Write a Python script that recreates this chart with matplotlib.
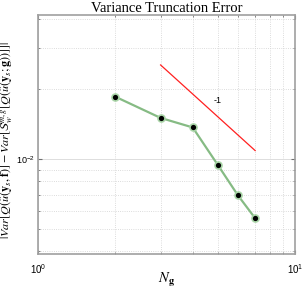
import numpy as np
import matplotlib
matplotlib.use("Agg")
import matplotlib.pyplot as plt
from matplotlib.ticker import LogLocator, NullFormatter

plt.rcParams["mathtext.fontset"] = "stix"
plt.rcParams["font.family"] = "Liberation Sans"

# data
n_g = [2, 3, 4, 5, 6, 7]
err = [0.0185, 0.0150, 0.01365, 0.00945, 0.00697, 0.00556]

# slope -1 reference line
ref_x = [3, 7]
ref_c = 0.076
ref_y = [ref_c / v for v in ref_x]

fig = plt.figure(figsize=(3.05, 2.9), dpi=100)
ax = fig.add_axes([0.1246, 0.124, 0.8424, 0.824])

ax.plot(n_g, err, "-", color="#86bb84", lw=1.6, zorder=3)
ax.plot(n_g, err, "o", ms=5, mfc="black", mec="#a8d4a6", mew=1.2, zorder=4)
ax.plot(ref_x, ref_y, "-", color="#ff2020", lw=0.9, zorder=3)
ax.text(5.0, 0.0178, "-1", fontsize=6.5, ha="center", va="center")

ax.set_xscale("log")
ax.set_yscale("log")
ax.set_xlim(1, 10)
ax.set_ylim(0.0039, 0.0415)

ax.yaxis.set_major_locator(LogLocator(base=10, numticks=10))
ax.yaxis.set_minor_locator(LogLocator(base=10, subs=np.arange(2, 10), numticks=10))
ax.yaxis.set_minor_formatter(NullFormatter())
ax.xaxis.set_minor_formatter(NullFormatter())

ax.grid(True, which="major", color="#dddddd", lw=0.7, ls="-")
ax.grid(True, which="minor", color="#d0d0d0", lw=0.6, ls=":")

for s in ax.spines.values():
    s.set_color("#a0a0a0")
    s.set_linewidth(1.2)
ax.tick_params(which="both", direction="in", color="#707070", labelsize=7,
               top=True, right=True)
ax.tick_params(axis="x", which="major", pad=6)
ax.tick_params(axis="y", which="major", pad=2, labelsize=6.5)
ax.tick_params(which="major", length=3)
ax.tick_params(which="minor", length=1.5)

ax.set_title("Variance Truncation Error", fontsize=10.5, family="Liberation Serif", pad=2)
ax.set_xlabel(r"$N_\mathbf{g}$", fontsize=10.5)
ax.xaxis.set_label_coords(0.5, -0.07)
ax.set_ylabel(r"$|Var[Q(\hat{u}(\mathbf{y}_s,\mathbf{f})]-Var[\mathcal{S}_w^{m,g}[Q(\hat{u}(\mathbf{y}_s;\mathbf{g}))]]|$",
              fontsize=8.7)
ax.yaxis.set_label_coords(-0.088, 0.48)

fig.savefig("out.png", dpi=100)
